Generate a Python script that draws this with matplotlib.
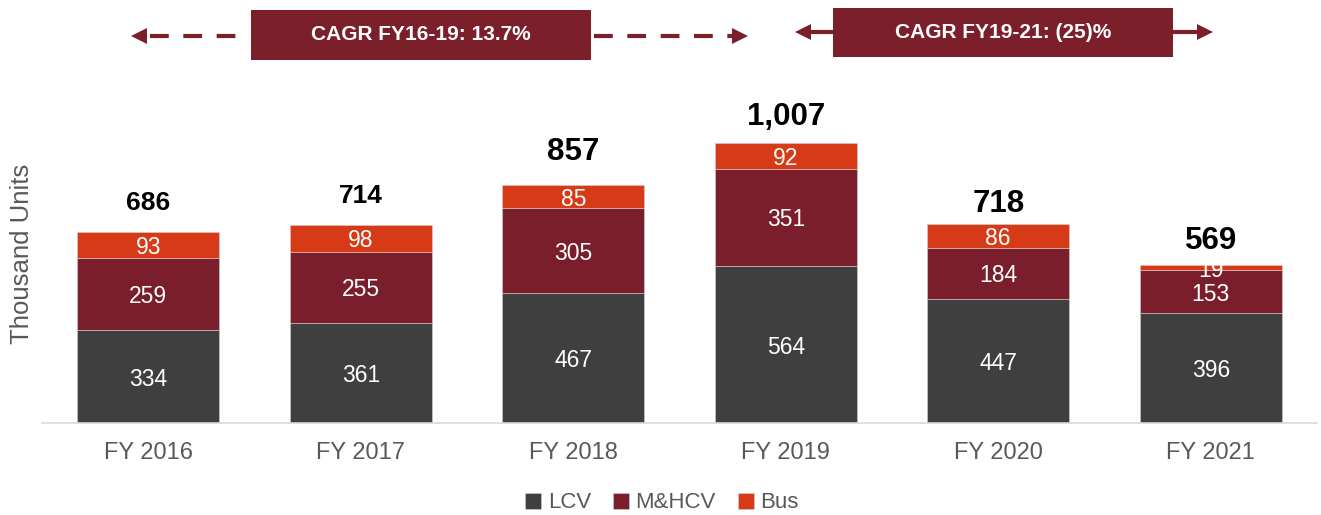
import numpy as np
import matplotlib.pyplot as plt
from matplotlib.patches import Rectangle
from matplotlib.lines import Line2D

plt.rcParams['font.family'] = ['Liberation Sans', 'DejaVu Sans']

years = ['FY 2016', 'FY 2017', 'FY 2018', 'FY 2019', 'FY 2020', 'FY 2021']
lcv = [334, 361, 467, 564, 447, 396]
mhcv = [259, 255, 305, 351, 184, 153]
bus = [93, 98, 85, 92, 86, 19]
totals = ['686', '714', '857', '1,007', '718', '569']
cagr_labels = ['CAGR FY16-19: 13.7%', 'CAGR FY19-21: (25)%']

# styling of the total labels (font size, gap above bar in px)
total_sizes = [19, 19, 22.5, 22.5, 22.5, 22.5]
total_gaps = [29, 29, 33, 26, 20, 24]

c_lcv = '#3F3F3F'
c_mhcv = '#7B1E2B'
c_bus = '#D63A17'
c_box = '#7B1F2B'
grey = '#595959'

W, H = 1321, 515
fig = plt.figure(figsize=(W / 100, H / 100), dpi=100)

# axes placed in pixel terms
ax_left, ax_right, ax_bottom, ax_top = 42, 1317, 423, 70
ax = fig.add_axes([ax_left / W, 1 - ax_bottom / H, (ax_right - ax_left) / W, (ax_bottom - ax_top) / H])
px_per_unit = 0.278
ax.set_ylim(0, (ax_bottom - ax_top) / px_per_unit)
ax.set_xlim(-0.5, 5.5)

x = np.arange(len(years))
lcv = np.array(lcv)
mhcv = np.array(mhcv)
bus = np.array(bus)
w = 0.67
b1 = ax.bar(x, lcv, w, color=c_lcv, label='LCV', edgecolor='#d0d0d0', linewidth=0.4)
b2 = ax.bar(x, mhcv, w, bottom=lcv, color=c_mhcv, label='M&HCV', edgecolor='#d0d0d0', linewidth=0.4)
b3 = ax.bar(x, bus, w, bottom=lcv + mhcv, color=c_bus, label='Bus', edgecolor='#d0d0d0', linewidth=0.4)

seg_kw = dict(ha='center', va='center_baseline', color='white', fontsize=16.5)
for i in range(len(years)):
    ax.text(x[i], lcv[i] / 2, str(lcv[i]), **seg_kw)
    ax.text(x[i], lcv[i] + mhcv[i] / 2, str(mhcv[i]), **seg_kw)
    ax.text(x[i], lcv[i] + mhcv[i] + bus[i] / 2, str(bus[i]), **seg_kw)
    top = lcv[i] + mhcv[i] + bus[i]
    ax.annotate(totals[i], (x[i], top), xytext=(0, total_gaps[i] * 0.72), textcoords='offset points',
                ha='center', va='center', fontsize=total_sizes[i], fontweight='bold', color='black')

for s in ['top', 'right', 'left']:
    ax.spines[s].set_visible(False)
ax.spines['bottom'].set_color('#D9D9D9')
ax.spines['bottom'].set_linewidth(1.2)
ax.set_yticks([])
ax.set_xticks(x)
ax.set_xticklabels(years, fontsize=17, color=grey)
ax.tick_params(axis='x', length=0, pad=14)

fig.text(22 / W, 1 - 254 / H, 'Thousand Units', rotation=90, ha='center', va='center',
         fontsize=18.5, color=grey)

fig.legend(handles=[b1, b2, b3], loc='center', bbox_to_anchor=(662 / W, 1 - 503 / H), ncol=3,
           frameon=False, fontsize=16, handlelength=0.7, handleheight=0.7, handletextpad=0.3,
           columnspacing=1.0, labelcolor=grey)


def fx(px):
    return px / W


def fy(py):
    return 1 - py / H


def dashed(x0, x1, y):
    fig.add_artist(Line2D([fx(x0), fx(x1)], [fy(y), fy(y)], color=c_box, lw=3,
                          linestyle=(0, (4.5, 3.5))))


def head(xt, y, direction):
    m = '<' if direction == 'left' else '>'
    off = 6 if direction == 'left' else -6
    fig.add_artist(Line2D([fx(xt + off)], [fy(y)], marker=m, markersize=12, color=c_box,
                          markeredgewidth=0))


def box(x0, x1, y0, y1, label):
    fig.add_artist(Rectangle((fx(x0), fy(y1)), fx(x1) - fx(x0), fy(y0) - fy(y1),
                             facecolor=c_box, edgecolor='none'))
    fig.text(fx((x0 + x1) / 2), fy((y0 + y1) / 2), label, ha='center', va='center',
             color='white', fontsize=15, fontweight='bold')


# CAGR FY16-19
dashed(150, 250, 36)
head(133, 36, 'left')
dashed(594, 736, 36)
head(746, 36, 'right')
box(251, 591, 10, 60, cagr_labels[0])

# CAGR FY19-21
fig.add_artist(Line2D([fx(808), fx(834)], [fy(32), fy(32)], color=c_box, lw=3))
head(797, 32, 'left')
fig.add_artist(Line2D([fx(1172), fx(1200)], [fy(32), fy(32)], color=c_box, lw=3))
head(1211, 32, 'right')
box(833, 1173, 8, 57, cagr_labels[1])

fig.savefig('out.png', dpi=100)
